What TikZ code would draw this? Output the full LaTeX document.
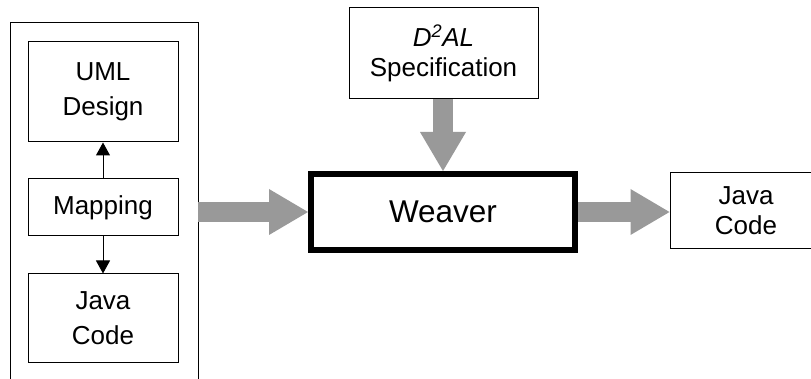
\documentclass[tikz,border=0pt]{standalone}
\usepackage{fontspec}
\setmainfont{Liberation Sans}
\usetikzlibrary{arrows.meta,calc}
\definecolor{arrowgray}{RGB}{153,153,153}
\begin{document}
\begin{tikzpicture}[x=1pt,y=-1pt,
  box/.style={draw=black,line width=1pt,fill=white,align=center,inner sep=0pt},
  small/.style={font=\fontsize{26}{35}\selectfont},
  tight/.style={font=\fontsize{26}{30}\selectfont},
  thinarrow/.style={line width=1pt,-{Triangle[width=14pt,length=13pt]}},
  fatarrow/.style={draw=arrowgray,line width=20pt,line cap=butt,-{Triangle[width=46pt,length=39pt,line width=0pt]}}
]
\useasboundingbox (0,0) rectangle (811,379);
\clip (0,0) rectangle (811,379);
\fill[white] (0,0) rectangle (811,379);

% container (open at the bottom)
\draw[line width=1pt] (10,395) -- (10,23) -- (198,23) -- (198,395);
\coordinate (contE) at (198,212);

% left column
\node[box,small,minimum width=150pt,minimum height=100pt] (uml) at (103,92) {UML\\Design};
\node[box,small,minimum width=150pt,minimum height=57pt] (map) at (103,207.5) {Mapping};
\node[box,small,minimum width=150pt,minimum height=88pt] (javaL) at (103,318) {Java\\Code};

\draw[thinarrow] (map.north) -- (uml.south);
\draw[thinarrow] (map.south) -- (javaL.north);

% specification
\node[box,tight,minimum width=189pt,minimum height=91pt] (spec) at (443.5,53.5) {\textit{D\textsuperscript{2}AL}\\Specification};

% weaver
\node[box,line width=6pt,font=\fontsize{31.5}{36}\selectfont,minimum width=264pt,minimum height=76pt] (weaver) at (443,212) {Weaver};

% right java code (clipped at the right edge)
\node[box,tight,minimum width=152pt,minimum height=76pt] (javaR) at (746,211) {Java\\Code};

% fat arrows
\draw[fatarrow] (contE) -- (weaver.west);
\draw[fatarrow] (spec.south -| weaver.north) -- (weaver.north);
\draw[fatarrow] (weaver.east) -- (weaver.east -| javaR.west);
\end{tikzpicture}
\end{document}
